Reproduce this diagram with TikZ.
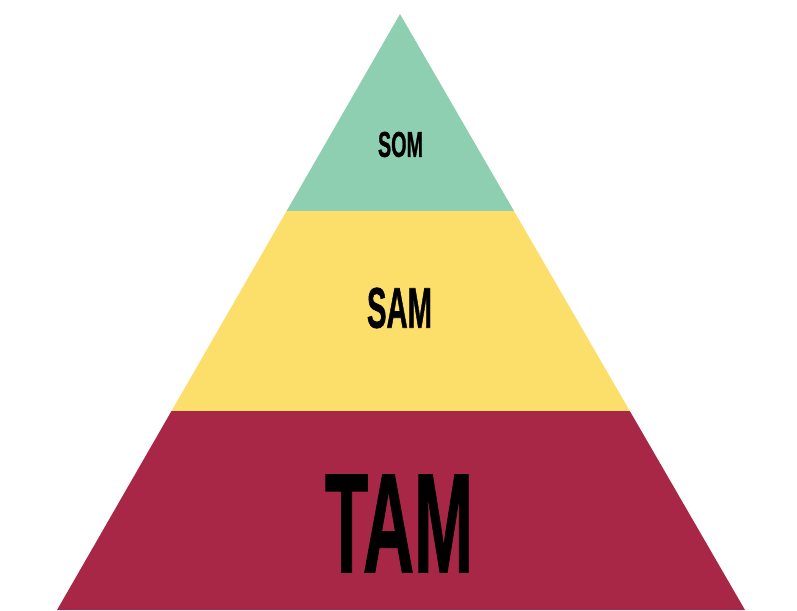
\documentclass[tikz,border=0pt]{standalone}
\usepackage{fontspec}
\usepackage{graphicx}
\newfontfamily\labelfont{Liberation Sans Bold}[FakeBold=1.2]
\definecolor{somgreen}{HTML}{8ECFB1}
\definecolor{samyellow}{HTML}{FCDF6A}
\definecolor{tamred}{HTML}{A82746}
\tikzset{
  band/.style={draw=none},
  lbl/.style={inner sep=0pt, outer sep=0pt, text=black}
}
\begin{document}
\begin{tikzpicture}[x=1pt,y=-1pt]
\useasboundingbox (0,0) rectangle (797,610);
\coordinate (apex) at (400,14);
\coordinate (l1) at (286.6,211);
\coordinate (r1) at (514,211);
\coordinate (l2) at (171.5,411);
\coordinate (r2) at (629.8,411);
\coordinate (l3) at (57,610);
\coordinate (r3) at (745,610);
\fill[band, somgreen] (apex) -- (r1) -- (l1) -- cycle;
\fill[band, samyellow] (l1) -- (r1) -- (r2) -- (l2) -- cycle;
\fill[band, tamred] (l2) -- (r2) -- (r3) -- (l3) -- cycle;
\node[lbl] (som) at (400.5,144.5) {\resizebox{45pt}{25pt}{\labelfont SOM}};
\node[lbl] (sam) at (399.5,308) {\resizebox{65pt}{40pt}{\labelfont SAM}};
\node[lbl] (tam) at (399,523.5) {\resizebox{148pt}{97pt}{\labelfont TAM}};
\end{tikzpicture}
\end{document}
